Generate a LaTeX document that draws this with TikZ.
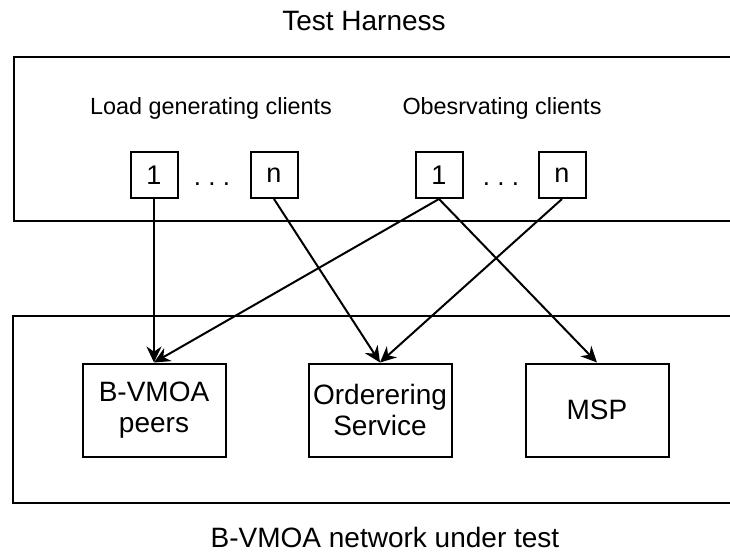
\documentclass[tikz,border=0pt]{standalone}
\usepackage{fontspec}
\setmainfont{Liberation Sans}
\usetikzlibrary{arrows.meta}

\begin{document}
\begin{tikzpicture}[x=0.5pt, y=-0.5pt,
  title/.style={font=\fontsize{14}{16}\selectfont},
  label/.style={font=\fontsize{11.7}{14}\selectfont, anchor=base},
  group/.style={draw, line width=1.2pt},
  client/.style={draw, line width=1pt, minimum width=23.5pt, minimum height=23pt,
    inner sep=0pt, font=\fontsize{13.5}{15}\selectfont},
  service/.style={draw, line width=1pt, minimum width=71.5pt, minimum height=46.5pt,
    inner sep=0pt, align=center, font=\fontsize{14}{15.5}\selectfont},
  link/.style={-{Stealth[length=8pt, width=7.5pt]}, line width=1pt}]
  \useasboundingbox (0,0) rectangle (730,559);

  % test harness
  \node[title] (harnesstitle) at (364,21) {Test Harness};
  \draw[group] (14,57) rectangle (745,221);
  \node[label] (loadlabel) at (211,114) {Load generating clients};
  \node[label] (obslabel) at (502,114) {Obesrvating clients};
  \node[client] (load1) at (154,175) {1};
  \node[label, font=\fontsize{13}{15}\selectfont] (loaddots) at (212,185) {.\ .\ .};
  \node[client] (loadn) at (274,175) {n};
  \node[client] (obs1) at (439,175) {1};
  \node[label, font=\fontsize{13}{15}\selectfont] (obsdots) at (501,185) {.\ .\ .};
  \node[client] (obsn) at (562,175) {n};

  % network under test
  \draw[group] (13,316) rectangle (745,503);
  \node[service] (peers) at (154,410) {B-VMOA\\peers};
  \node[service] (ordering) at (380,410) {Orderering\\Service};
  \node[service] (msp) at (597,410) {MSP};
  \node[title] (networktitle) at (385,537) {B-VMOA network under test};

  \draw[link] (load1.south) -- (peers.north);
  \draw[link] (loadn.south) -- (ordering.north);
  \draw[link] (obs1.south) -- (peers.north);
  \draw[link] (obs1.south) -- (msp.north);
  \draw[link] (obsn.south) -- (ordering.north);
\end{tikzpicture}
\end{document}
